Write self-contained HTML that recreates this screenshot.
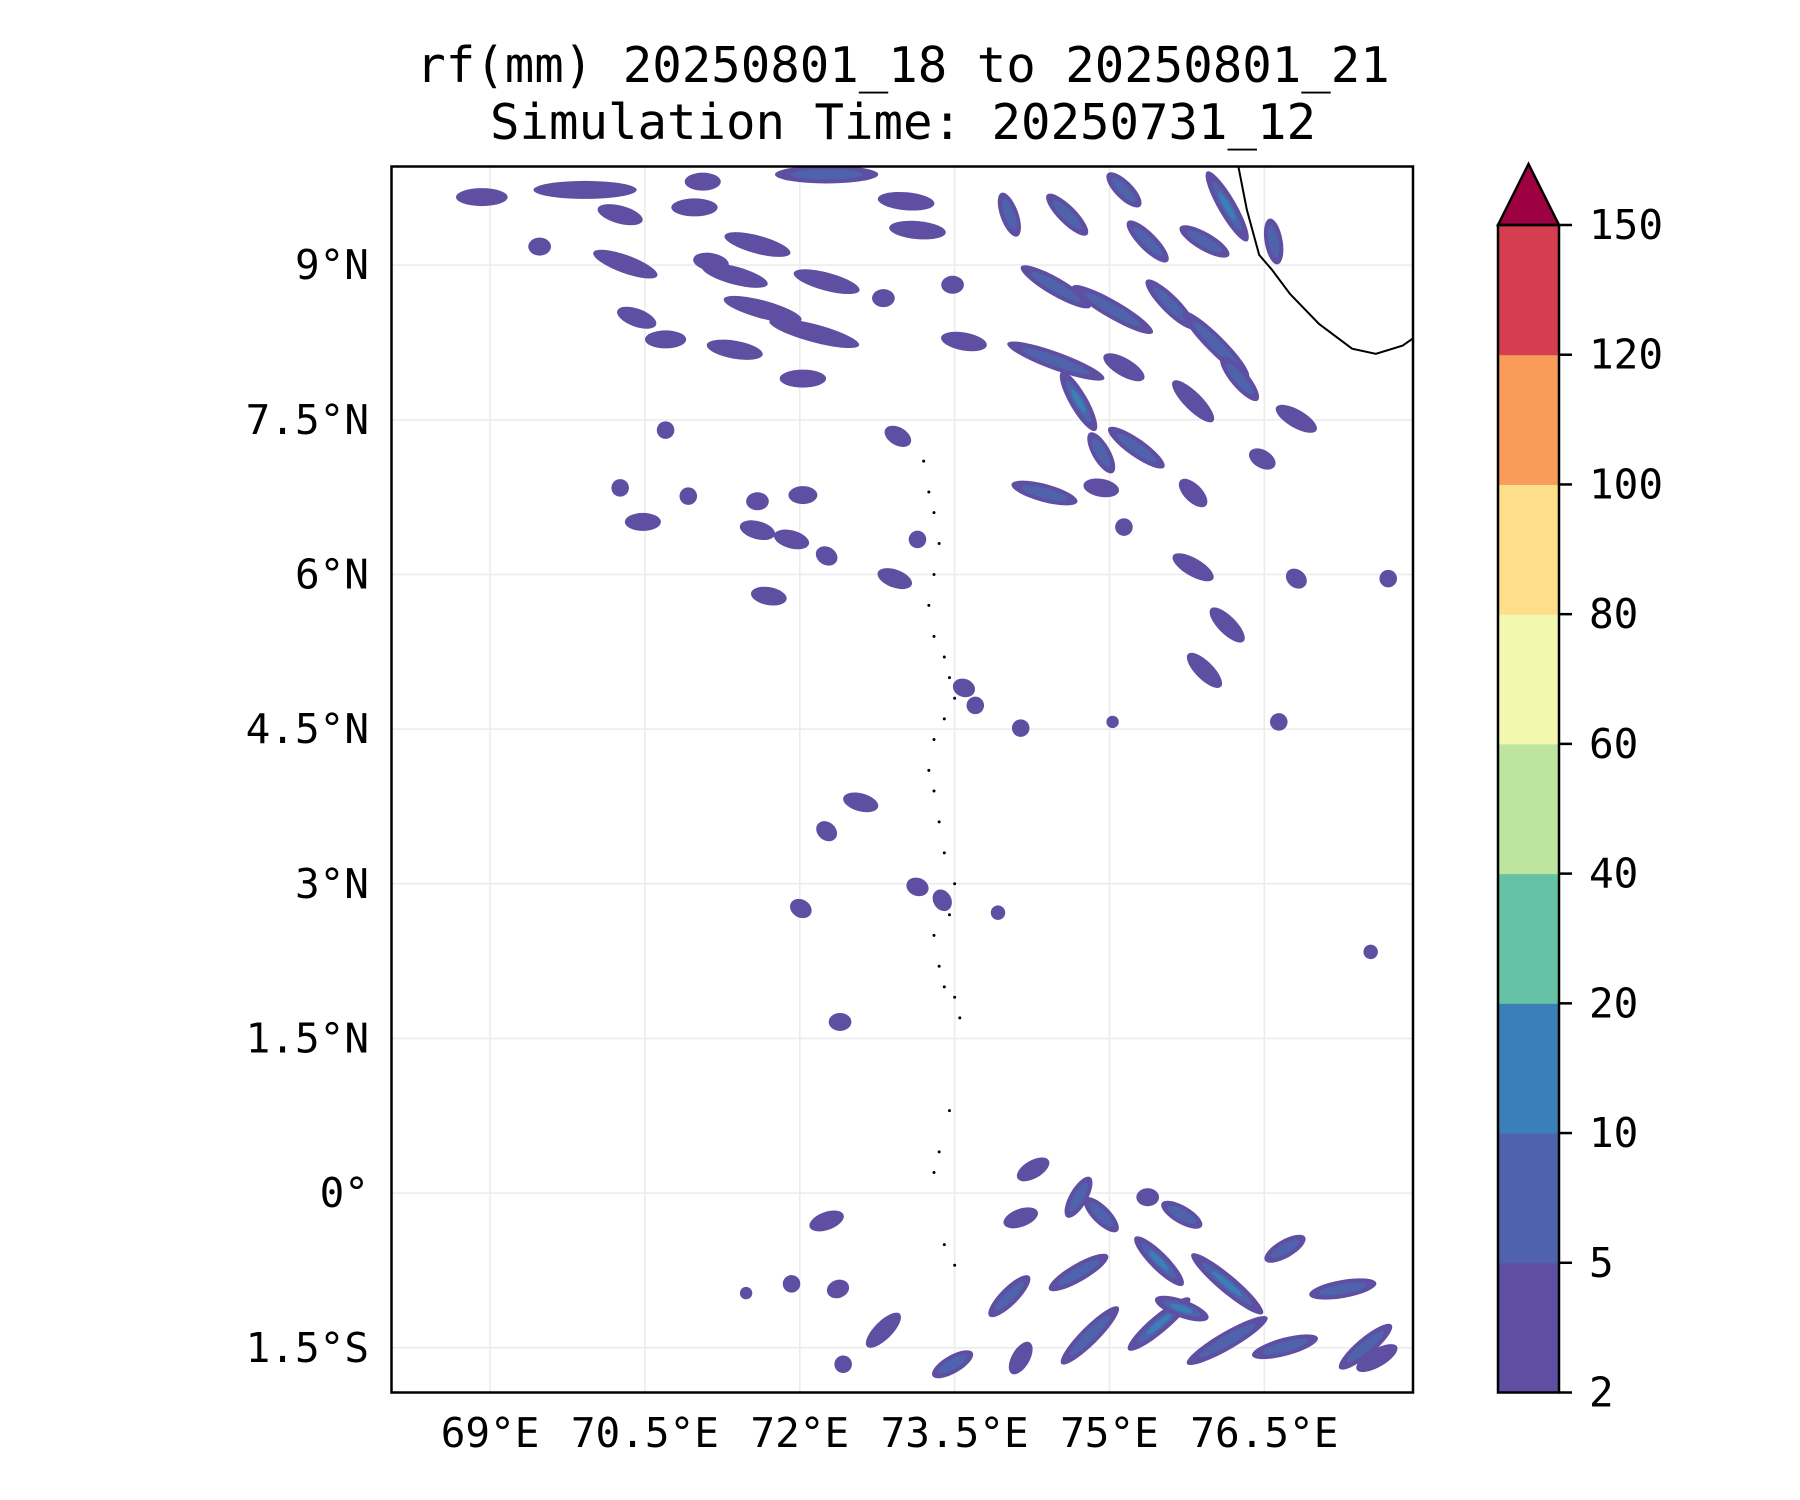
<!DOCTYPE html>
<html><head><meta charset="utf-8">
<style>
html,body{margin:0;padding:0;background:#fff;}
svg{display:block;font-family:"DejaVu Sans Mono","Liberation Mono",monospace;}
</style></head>
<body>
<svg id="chart" width="1800" height="1500" viewBox="0 0 1800 1500" xmlns="http://www.w3.org/2000/svg">
<text x="903" y="82" font-size="49" text-anchor="middle">rf(mm) 20250801_18 to 20250801_21</text>
<text x="903" y="139" font-size="49" text-anchor="middle">Simulation Time: 20250731_12</text>
<defs><clipPath id="plotclip"><rect x="391.5" y="166.5" width="1021.5" height="1226"/></clipPath></defs>
<g id="grid"></g>
<g id="marks" clip-path="url(#plotclip)"></g>
<g id="axes"></g>
<g id="cbar"></g>
</svg>
<script>
const lonTicks = [69, 70.5, 72, 73.5, 75, 76.5];
const lonTickLabels = ["69°E","70.5°E","72°E","73.5°E","75°E","76.5°E"];
const latTicks = [9, 7.5, 6, 4.5, 3, 1.5, 0, -1.5];
const latTickLabels = ["9°N","7.5°N","6°N","4.5°N","3°N","1.5°N","0°","1.5°S"];
const cbarLevels = [2,5,10,20,40,60,80,100,120,150];
const cbarColors = ["#5e4fa2","#4f63ad","#3a7fb8","#66c2a5","#bde5a0","#f3f8b0","#fddf8b","#f99b5a","#d53e4f"];
const cbarExtendColor = "#9e0142";
// rain cells: lon, lat, length (deg), angle (deg), level
const cellLon = [68.92,69.92,70.26,70.98,71.06,69.48,70.31,71.59,72.26,73.03,73.14,71.37,71.14,72.26,71.64,72.14,70.42,70.7,71.37,72.03,73.48,73.59,72.81,74.03,74.59,75.14,75.37,76.14,76.59,75.92,74.48,75.03,75.59,76.03,74.48,75.14,76.26,76.81,74.7,75.26,74.92,75.81,74.37,74.92,75.81,75.14,76.48,72.95,72.03,71.59,70.26,70.48,70.92,71.59,71.92,72.26,72.92,73.14,71.7,75.81,76.14,75.92,76.81,76.64,77.7,73.59,73.7,74.14,75.03,72.59,72.26,73.14,73.38,72.01,73.92,72.39,77.53,70.7,
74.26,74.7,74.92,75.7,75.37,74.14,72.26,74.03,74.7,75.48,76.14,76.7,77.26,72.81,72.37,73.48,74.14,74.81,75.48,76.14,76.7,77.48,77.59,75.7,71.92,71.48,72.42];
const cellLat = [9.66,9.73,9.49,9.56,9.81,9.18,9.01,9.2,9.88,9.62,9.34,8.9,9.03,8.84,8.57,8.34,8.49,8.28,8.18,7.9,8.81,8.26,8.68,9.49,9.49,9.73,9.23,9.57,9.23,9.23,8.79,8.57,8.62,8.23,8.07,8.01,7.9,7.51,7.68,7.23,7.18,7.68,6.79,6.84,6.79,6.46,7.12,7.34,6.77,6.71,6.84,6.51,6.76,6.43,6.34,6.18,5.96,6.34,5.79,6.07,5.51,5.07,5.96,4.57,5.96,4.9,4.73,4.51,4.57,3.79,3.51,2.97,2.84,2.76,2.72,1.66,2.34,7.4,
0.23,-0.04,-0.21,-0.21,-0.04,-0.24,-0.27,-1.0,-0.77,-0.66,-0.88,-0.54,-0.93,-1.33,-0.93,-1.66,-1.6,-1.38,-1.27,-1.43,-1.49,-1.49,-1.6,-1.12,-0.88,-0.97,-1.66];
const cellLen = [0.5,1.0,0.45,0.45,0.35,0.22,0.66,0.66,1.0,0.55,0.55,0.66,0.35,0.66,0.78,0.9,0.4,0.4,0.55,0.45,0.22,0.45,0.22,0.45,0.55,0.45,0.55,0.78,0.45,0.55,0.78,0.9,0.66,0.9,1.0,0.45,0.55,0.45,0.66,0.66,0.45,0.55,0.66,0.35,0.35,0.17,0.28,0.28,0.28,0.22,0.17,0.35,0.17,0.35,0.35,0.22,0.35,0.17,0.35,0.45,0.45,0.45,0.22,0.17,0.17,0.22,0.17,0.17,0.12,0.35,0.22,0.22,0.22,0.22,0.14,0.22,0.14,0.17,
0.35,0.45,0.45,0.45,0.22,0.35,0.35,0.55,0.66,0.66,0.9,0.45,0.66,0.45,0.22,0.45,0.35,0.78,0.78,0.9,0.66,0.66,0.45,0.55,0.17,0.12,0.17];
const cellAng = [0,0,15,0,0,0,20,15,0,5,5,15,10,15,15,15,20,0,10,0,0,10,0,70,45,45,45,60,80,30,30,30,45,45,20,30,50,30,60,35,60,45,15,10,45,80,30,30,0,0,0,0,0,15,15,30,20,0,10,30,45,45,40,20,0,20,20,20,0,15,40,20,60,30,20,0,30,0,
-30,-60,45,30,0,-20,-20,-45,-30,45,40,-30,-10,-45,-20,-30,-60,-45,-40,-30,-15,-40,-30,20,-20,-20,0];
const cellLvl = [1,1,1,1,1,1,1,1,2,1,1,1,1,1,1,1,1,1,1,1,1,1,1,2,2,2,2,3,2,2,2,2,2,2,2,1,2,1,3,2,2,1,2,1,1,1,1,1,1,1,1,1,1,1,1,1,1,1,1,1,1,1,1,1,1,1,1,1,1,1,1,1,1,1,1,1,1,1,
1,2,2,2,1,1,1,2,2,3,3,2,2,1,1,2,1,2,3,2,2,2,1,3,1,1,1];
// coastline (lon, lat)
const coastLon = [76.24,76.33,76.45,76.57,76.75,77.03,77.35,77.58,77.84,78.04,78.2];
const coastLat = [10.0,9.54,9.1,8.96,8.72,8.43,8.19,8.14,8.22,8.36,8.38];
// atoll outlines (dotted)
const atollLon = [73.2,73.25,73.3,73.35,73.3,73.25,73.3,73.4,73.45,73.5,73.4,73.3,73.25,73.3,73.35,73.4,73.5,73.45,73.3,73.35,73.4,73.5,73.55,73.45,73.35,73.3,73.4,73.5];
const atollLat = [7.1,6.8,6.6,6.3,6.0,5.7,5.4,5.2,5.0,4.8,4.6,4.4,4.1,3.9,3.6,3.3,3.0,2.7,2.5,2.2,2.0,1.9,1.7,0.8,0.4,0.2,-0.5,-0.7];

const NS='http://www.w3.org/2000/svg';
const X0=391.5,X1=1413,Y0=166.5,Y1=1392.5;
const lonMin=68.045,lonMax=77.94,latMin=-1.934,latMax=9.957;
function xs(l){return X0+(l-lonMin)/(lonMax-lonMin)*(X1-X0);}
function ys(l){return Y1-(l-latMin)/(latMax-latMin)*(Y1-Y0);}
const pxDeg=(X1-X0)/(lonMax-lonMin);
function mk(tag,attrs,parent){const e=document.createElementNS(NS,tag);for(const k in attrs)e.setAttribute(k,attrs[k]);parent.appendChild(e);return e;}

const grid=document.getElementById('grid'),marks=document.getElementById('marks'),axes=document.getElementById('axes'),cbar=document.getElementById('cbar');
lonTicks.forEach((v,i)=>{
  const l=mk('line',{x1:xs(v),x2:xs(v),y1:Y0,y2:Y1,stroke:'#ebebeb','stroke-width':1.5},grid);
  
  
  const t=mk('text',{x:xs(v),y:1447,'font-size':41,'text-anchor':'middle'},axes);
  t.textContent=lonTickLabels[i];
  
  
});
latTicks.forEach((v,i)=>{
  const l=mk('line',{x1:X0,x2:X1,y1:ys(v),y2:ys(v),stroke:'#ebebeb','stroke-width':1.5},grid);
  
  
  const t=mk('text',{x:369,y:ys(v)+14,'font-size':41,'text-anchor':'end'},axes);
  t.textContent=latTickLabels[i];
  
  
});
const colors=["#5e4fa2","#4f63ad","#3a7fb8"];
cellLon.forEach((lo,i)=>{
  const cx=xs(lo),cy=ys(cellLat[i]),rx=cellLen[i]*pxDeg/2,ang=cellAng[i],lv=cellLvl[i];
  const e=mk('ellipse',{cx:cx,cy:cy,rx:rx,ry:Math.max(5,Math.min(rx,9)),fill:colors[0],transform:`rotate(${ang} ${cx} ${cy})`},marks);
  
  
  for(let k=2;k<=lv;k++){
    const f=1-(k-1)*0.3;
    const e2=mk('ellipse',{cx:cx,cy:cy,rx:rx*f,ry:Math.max(3,Math.min(rx,9)*f*0.8),fill:colors[k-1],transform:`rotate(${ang} ${cx} ${cy})`},marks);
    
    
  }
});
let d='';coastLon.forEach((v,i)=>{d+=(i?'L':'M')+xs(v)+' '+ys(coastLat[i]);});
const cp=mk('path',{d:d,fill:'none',stroke:'#000','stroke-width':2},marks);


atollLon.forEach((v,i)=>{
  const c=mk('circle',{cx:xs(v),cy:ys(atollLat[i]),r:1.5,fill:'#000'},marks);
  
  
});
const fr=mk('rect',{x:X0,y:Y0,width:X1-X0,height:Y1-Y0,fill:'none',stroke:'#000','stroke-width':2.5},axes);


// colorbar
const CB0=1498,CB1=1559,CBtop=225,CBbot=1392.5,step=(CBbot-CBtop)/(cbarLevels.length-1);
cbarColors.forEach((c,i)=>{
  const r=mk('rect',{x:CB0,y:CBbot-(i+1)*step,width:CB1-CB0,height:step+0.5,fill:c},cbar);
  
  
});
const tri=mk('polygon',{points:`${CB0},${CBtop} ${CB1},${CBtop} ${(CB0+CB1)/2},164`,fill:cbarExtendColor,stroke:'#000','stroke-width':2.5},cbar);


const cbf=mk('rect',{x:CB0,y:CBtop,width:CB1-CB0,height:CBbot-CBtop,fill:'none',stroke:'#000','stroke-width':2.5},cbar);


cbarLevels.forEach((v,i)=>{
  const y=CBbot-i*step;
  mk('line',{x1:CB1,x2:CB1+13,y1:y,y2:y,stroke:'#000','stroke-width':2.5},cbar);
  const t=mk('text',{x:1589,y:y+14,'font-size':41},cbar);
  t.textContent=v;
  
  
});
</script>
</body></html>
